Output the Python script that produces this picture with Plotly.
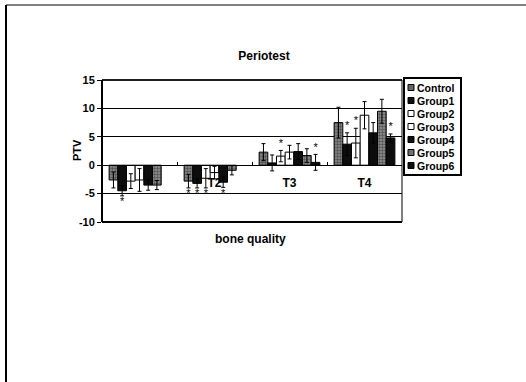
import plotly.graph_objects as go

# ---------------- data ----------------
categories = ["T1", "T2", "T3", "T4"]
cat_tick_text = ["", "T2", "T3", "T4"]
groups = ["Control", "Group1", "Group2", "Group3", "Group4", "Group5", "Group6"]

control = [-2.6, -2.8, 2.3, 7.5]
group1 = [-4.5, -3.2, 0.4, 3.7]
group2 = [-2.8, -2.3, 1.6, 3.9]
group3 = [-2.6, -1.3, 2.3, 8.8]
group4 = [-3.5, -3.0, 2.4, 5.7]
group5 = [-3.5, -0.9, 1.7, 9.5]
group6 = [None, None, 0.5, 4.8]

control_err = [1.4, 1.2, 1.5, 2.7]
group1_err = [0.9, 0.8, 1.4, 2.0]
group2_err = [1.3, 1.7, 1.0, 2.6]
group3_err = [2.0, 1.1, 1.2, 2.4]
group4_err = [0.9, 0.9, 1.4, 1.8]
group5_err = [0.8, 0.8, 1.2, 2.1]
group6_err = [0, 0, 1.4, 0.7]

# significance marks (1 = asterisk shown)
control_sig = [0, 1, 0, 0]
group1_sig = [1, 1, 0, 1]
group2_sig = [0, 1, 1, 1]
group3_sig = [0, 0, 0, 0]
group4_sig = [0, 1, 0, 0]
group5_sig = [0, 0, 0, 0]
group6_sig = [0, 0, 1, 1]

y_tick_vals = [-10, -5, 0, 5, 10, 15]
y_tick_text = ["-10", "-5", "0", "5", "10", "15"]

values = [control, group1, group2, group3, group4, group5, group6]
errors = [control_err, group1_err, group2_err, group3_err, group4_err, group5_err, group6_err]
sigs = [control_sig, group1_sig, group2_sig, group3_sig, group4_sig, group5_sig, group6_sig]

# ---------------- styles ----------------
FONT = "Liberation Sans, Arial, sans-serif"
styles = [
    dict(color="#6a6a6a", pattern=dict(shape=".", fgcolor="#111111", bgcolor="#8c8c8c", size=3, solidity=0.5)),
    dict(color="#0d0d0d"),
    dict(color="#ffffff"),
    dict(color="#ffffff"),
    dict(color="#0d0d0d"),
    dict(color="#6a6a6a", pattern=dict(shape=".", fgcolor="#111111", bgcolor="#949494", size=3, solidity=0.5)),
    dict(color="#0d0d0d"),
]
legend_colors = ["#666666", "#0d0d0d", "#ffffff", "#ffffff", "#0d0d0d", "#707070", "#0d0d0d"]

W, H = 526, 382
L, R, T, B = 102, 402, 80, 222  # plot area in pixels


def px_x(x):
    return (x - L) / (R - L)


def px_y(y):
    return (B - y) / (B - T)


fig = go.Figure()

for name, vals, errs, st in zip(groups, values, errors, styles):
    fig.add_trace(go.Bar(
        name=name, x=categories, y=vals,
        offsetgroup=name,
        marker=dict(line=dict(color="#000000", width=1), **st),
        error_y=dict(type="data", array=errs, visible=True, color="#000000", thickness=1, width=2),
        showlegend=False,
    ))

# asterisks, placed at the end of each error bar
for name, vals, errs, sg in zip(groups, values, errors, sigs):
    ys, pos = [], []
    for v, e, s in zip(vals, errs, sg):
        if s and v is not None:
            if v >= 0:
                ys.append(v + e + 0.2)
                pos.append("top center")
            else:
                ys.append(v - e - 0.2)
                pos.append("bottom center")
        else:
            ys.append(None)
            pos.append("top center")
    fig.add_trace(go.Scatter(
        x=categories, y=ys, mode="text", text=["*"] * len(ys), textposition=pos,
        offsetgroup=name,
        textfont=dict(family=FONT, size=11, color=["#000000"] * len(ys)),
        showlegend=False, hoverinfo="skip",
    ))

shapes = []
annotations = []

# plot frame
shapes.append(dict(type="rect", xref="paper", yref="paper", x0=0, x1=1, y0=0, y1=1,
                   line=dict(color="#000000", width=1)))
shapes.append(dict(type="line", xref="paper", yref="paper", x0=0, x1=0, y0=0, y1=1,
                   line=dict(color="#000000", width=2)))
shapes.append(dict(type="line", xref="paper", yref="paper", x0=0, x1=1, y0=0, y1=0,
                   line=dict(color="#000000", width=2)))
shapes.append(dict(type="line", xref="paper", yref="paper", x0=0, x1=1, y0=1, y1=1,
                   line=dict(color="#000000", width=1.5)))

# outer chart border (top and left)
shapes.append(dict(type="line", xref="paper", yref="paper", x0=px_x(6), x1=px_x(W), y0=px_y(5), y1=px_y(5),
                   line=dict(color="#000000", width=1)))
shapes.append(dict(type="line", xref="paper", yref="paper", x0=px_x(6), x1=px_x(6), y0=px_y(5), y1=px_y(H),
                   line=dict(color="#000000", width=2)))

# legend (drawn manually to match compact spacing)
lx0, lx1, ly0, ly1 = 404, 461, 78, 175
shapes.append(dict(type="rect", xref="paper", yref="paper", x0=px_x(lx0), x1=px_x(lx1),
                   y0=px_y(ly1), y1=px_y(ly0), line=dict(color="#000000", width=2), fillcolor="#ffffff"))
step = (ly1 - ly0 - 6) / len(groups)
for i, (name, col) in enumerate(zip(groups, legend_colors)):
    cy = ly0 + 3 + step * (i + 0.5)
    shapes.append(dict(type="rect", xref="paper", yref="paper", x0=px_x(408), x1=px_x(414),
                       y0=px_y(cy + 3), y1=px_y(cy - 3), line=dict(color="#000000", width=1), fillcolor=col))
    annotations.append(dict(text=name, xref="paper", yref="paper", x=px_x(415), y=px_y(cy),
                            xanchor="left", yanchor="middle", showarrow=False,
                            font=dict(family=FONT, size=10.5, color="#000000", weight="bold")))

# x axis title
annotations.append(dict(text="bone quality", xref="paper", yref="paper", x=px_x(250), y=px_y(239),
                        xanchor="center", yanchor="middle", showarrow=False,
                        font=dict(family=FONT, size=12, color="#000000", weight="bold")))
# y axis title
annotations.append(dict(text="PTV", xref="paper", yref="paper", x=px_x(77), y=px_y(150),
                        xanchor="center", yanchor="middle", showarrow=False, textangle=-90,
                        font=dict(family=FONT, size=11, color="#000000", weight="bold")))

fig.update_layout(
    width=W, height=H,
    margin=dict(l=L, r=W - R, t=T, b=H - B),
    paper_bgcolor="#ffffff", plot_bgcolor="#ffffff",
    barmode="group", bargap=0.19, bargroupgap=0,
    scattermode="group", scattergap=0.19,
    title=dict(text="Periotest", x=264 / W, xref="container", xanchor="center",
               y=1 - 56 / H, yref="container", yanchor="middle",
               font=dict(family=FONT, size=12, color="#000000", weight="bold")),
    font=dict(family=FONT, color="#000000"),
    showlegend=False,
    hovermode=False,
    shapes=shapes,
    annotations=annotations,
    xaxis=dict(
        type="category", categoryorder="array", categoryarray=categories,
        tickvals=categories, ticktext=cat_tick_text,
        anchor="free", position=0.4,
        showline=True, linecolor="#000000", linewidth=1,
        ticks="inside", tickson="boundaries", ticklen=3, tickcolor="#000000",
        ticklabelstandoff=6,
        showgrid=False, zeroline=False,
        tickfont=dict(family=FONT, size=12, color="#000000", weight="bold"),
    ),
    yaxis=dict(
        range=[-10, 15], tickvals=y_tick_vals, ticktext=y_tick_text,
        showgrid=True, gridcolor="#000000", gridwidth=1,
        zeroline=False, showline=False,
        ticks="outside", ticklen=4, tickcolor="#000000",
        tickfont=dict(family=FONT, size=11, color="#000000", weight="bold"),
    ),
)

fig.write_html("out.html", config={"displayModeBar": False},
               post_script="document.body.style.margin='0';")
